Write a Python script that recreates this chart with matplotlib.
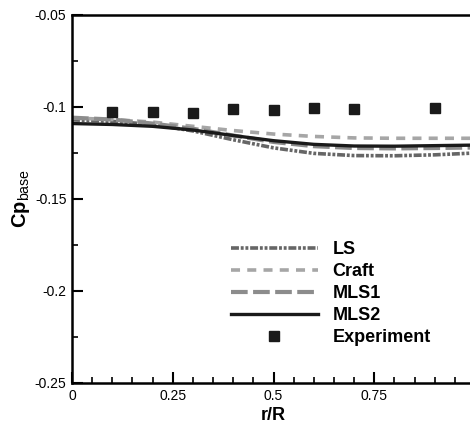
import numpy as np
import matplotlib.pyplot as plt
from matplotlib.ticker import MultipleLocator

plt.rcParams['font.family'] = ['Liberation Sans', 'DejaVu Sans']
plt.rcParams['mathtext.fontset'] = 'custom'
plt.rcParams['mathtext.rm'] = 'Liberation Sans'
plt.rcParams['mathtext.bf'] = 'Liberation Sans:bold'

# r/R stations for the computed curves
r = [0.0, 0.1, 0.2, 0.3, 0.4, 0.5, 0.6, 0.7, 0.8, 0.9, 1.0]

cp_ls = [-0.1070, -0.1078, -0.1095, -0.1130, -0.1178, -0.1222, -0.1252, -0.1264, -0.1265, -0.1260, -0.1250]
cp_craft = [-0.1060, -0.1068, -0.1082, -0.1105, -0.1128, -0.1147, -0.1160, -0.1168, -0.1170, -0.1170, -0.1170]
cp_mls1 = [-0.1058, -0.1068, -0.1090, -0.1118, -0.1155, -0.1190, -0.1213, -0.1223, -0.1225, -0.1223, -0.1220]
cp_mls2 = [-0.1090, -0.1095, -0.1105, -0.1125, -0.1155, -0.1183, -0.1203, -0.1212, -0.1213, -0.1210, -0.1207]

# experiment
r_exp = [0.1, 0.2, 0.3, 0.4, 0.5, 0.6, 0.7, 0.9]
cp_exp = [-0.1027, -0.1027, -0.1033, -0.1010, -0.1015, -0.1004, -0.1010, -0.1005]

fig = plt.figure(figsize=(4.7, 4.29), dpi=100)
ax = fig.add_axes([72/470, 46/429, 403/470, 368/429])

ax.plot(r, cp_ls, color='#666666', lw=2.6, dashes=(2.2, 0.5, 0.8, 0.5, 0.8, 0.5), label='LS')
ax.plot(r, cp_craft, color='#a6a6a6', lw=2.6, dashes=(2.5, 2.0), label='Craft')
ax.plot(r, cp_mls1, color='#8c8c8c', lw=3.0, dashes=(4.0, 1.3), label='MLS1')
ax.plot(r, cp_mls2, color='#1a1a1a', lw=2.4, label='MLS2')
ax.plot(r_exp, cp_exp, 's', color='#1a1a1a', ms=7.5, ls='none', label='Experiment')

ax.set_xlim(0, 1)
ax.set_ylim(-0.25, -0.05)
ax.set_xticks([0, 0.25, 0.5, 0.75])
ax.set_xticklabels(['0', '0.25', '0.5', '0.75'])
ax.set_yticks([-0.25, -0.2, -0.15, -0.1, -0.05])
ax.set_yticklabels(['-0.25', '-0.2', '-0.15', '-0.1', '-0.05'])
ax.xaxis.set_minor_locator(MultipleLocator(0.05))
ax.yaxis.set_minor_locator(MultipleLocator(0.025))
ax.tick_params(which='both', direction='in', top=False, right=False, labelsize=10, width=1.5)
ax.tick_params(which='major', length=8, pad=4)
ax.tick_params(which='minor', length=4.5, width=1.2)

for s in ax.spines.values():
    s.set_linewidth(1.8)

ax.set_xlabel('r/R', fontsize=13, fontweight='bold')
ax.xaxis.set_label_coords(0.5, -0.065)
ax.set_ylabel(r'$\mathbf{Cp}_{\mathrm{base}}$', fontsize=14.5)
ax.yaxis.set_label_coords(-0.1, 0.5)

leg = ax.legend(loc='upper left', bbox_to_anchor=(0.377, 0.405), frameon=False,
                handlelength=4.8, handletextpad=0.8, labelspacing=0.28,
                prop={'size': 13, 'weight': 'bold'}, borderaxespad=0)

fig.savefig('out.png', dpi=100)
